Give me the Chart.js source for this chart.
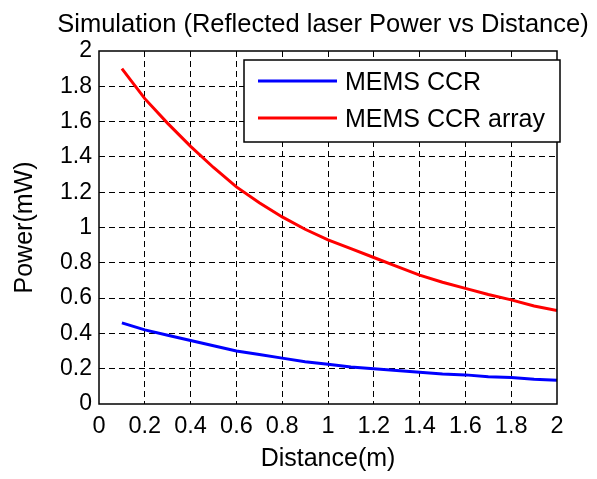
<!DOCTYPE html>
<html>
<head>
<meta charset="utf-8">
<script src="https://cdn.jsdelivr.net/npm/chart.js@4/dist/chart.umd.min.js"></script>
<style>
  body { margin: 0; background: #fff; }
  #wrap { width: 597px; height: 479px; }
</style>
</head>
<body>
<div id="wrap"><canvas id="chart"></canvas></div>
<script>
var distance = [0.1, 0.2, 0.3, 0.4, 0.5, 0.6, 0.7, 0.8, 0.9, 1.0,
                1.1, 1.2, 1.3, 1.4, 1.5, 1.6, 1.7, 1.8, 1.9, 2.0];
var ccrPower = [0.46, 0.42, 0.39, 0.36, 0.33, 0.30, 0.28, 0.26, 0.24, 0.225,
                0.21, 0.20, 0.19, 0.18, 0.17, 0.165, 0.155, 0.15, 0.14, 0.135];
var arrayPower = [1.90, 1.73, 1.59, 1.46, 1.34, 1.23, 1.14, 1.06, 0.99, 0.93,
                  0.88, 0.83, 0.78, 0.73, 0.69, 0.655, 0.62, 0.59, 0.555, 0.53];
var seriesNames = ['MEMS CCR', 'MEMS CCR array'];
var tickLabels = ['0', '0.2', '0.4', '0.6', '0.8', '1', '1.2', '1.4', '1.6', '1.8', '2'];
var chartTitle = 'Simulation (Reflected laser Power vs Distance)';

function pts(xs, ys) {
  return xs.map(function (x, i) { return { x: x, y: ys[i] }; });
}

var FONT = "'Liberation Sans', Arial, sans-serif";

var c = document.getElementById("chart");

var gridColor = function (ctx) {
  var v = ctx.tick ? ctx.tick.value : null;
  return (v === 0 || v === 2) ? 'rgba(0,0,0,0)' : '#000';
};

// black box round the plot area
var framePlugin = {
  id: 'frame',
  afterDatasetsDraw: function (chart) {
    var a = chart.chartArea, g = chart.ctx;
    g.save();
    g.strokeStyle = '#000';
    g.lineWidth = 1.5;
    g.strokeRect(a.left, a.top, a.right - a.left, a.bottom - a.top);
    g.restore();
  }
};

// title centred over the plot area, like matlab does it
var plotTitle = {
  id: 'plotTitle',
  afterDraw: function (chart) {
    var a = chart.chartArea, g = chart.ctx;
    g.save();
    g.fillStyle = '#000';
    g.font = '25.5px ' + FONT;
    g.textAlign = 'center';
    g.textBaseline = 'alphabetic';
    g.fillText(chartTitle, (a.left + a.right) / 2 - 5, 31.5);
    g.restore();
  }
};

// matlab style legend inside the plot
var boxLegend = {
  id: 'boxLegend',
  afterDraw: function (chart) {
    var a = chart.chartArea, g = chart.ctx;
    var x0 = a.left + 145, y0 = a.top + 9, w = 316, h = 82;
    g.save();
    g.fillStyle = '#fff';
    g.fillRect(x0, y0, w, h);
    g.strokeStyle = '#000';
    g.lineWidth = 1.5;
    g.strokeRect(x0, y0, w, h);
    chart.data.datasets.forEach(function (ds, i) {
      var y = y0 + 21 + i * 37;
      g.strokeStyle = ds.borderColor;
      g.lineWidth = 3;
      g.beginPath();
      g.moveTo(x0 + 14, y);
      g.lineTo(x0 + 93, y);
      g.stroke();
      g.fillStyle = '#000';
      g.font = '25px ' + FONT;
      g.textBaseline = 'middle';
      g.textAlign = 'left';
      g.fillText(ds.label, x0 + 101, y + 2);
    });
    g.restore();
  }
};

var data = {
  datasets: [{
    label: seriesNames[0],
    data: pts(distance, ccrPower),
    borderColor: '#0000ff',
    borderWidth: 3,
    pointRadius: 0,
    tension: 0
  }, {
    label: seriesNames[1],
    data: pts(distance, arrayPower),
    borderColor: '#ff0000',
    borderWidth: 3,
    pointRadius: 0,
    tension: 0
  }]
};

var options = {
  responsive: true,
  maintainAspectRatio: false,
  animation: false,
  layout: { padding: { left: 0, right: 40, top: 51, bottom: 0 } },
  plugins: {
    legend: { display: false },
    tooltip: { enabled: false },
    title: { display: false }
  },
  scales: {
    x: {
      type: 'linear',
      min: 0,
      max: 2,
      afterFit: function (s) { s.height = 75; },
      grid: { color: gridColor, drawTicks: false, lineWidth: 1 },
      border: { display: false, dash: [6, 4] },
      ticks: {
        stepSize: 0.2,
        padding: 8,
        color: '#000',
        maxRotation: 0,
        font: { family: FONT, size: 23.5 },
        callback: function (v, i) { return tickLabels[i]; }
      },
      title: {
        display: true,
        text: 'Distance(m)',
        color: '#000',
        font: { family: FONT, size: 25 },
        padding: 5
      }
    },
    y: {
      min: 0,
      max: 2,
      afterFit: function (s) { s.width = 99; },
      grid: { color: gridColor, drawTicks: false, lineWidth: 1 },
      border: { display: false, dash: [6, 4] },
      ticks: {
        stepSize: 0.2,
        padding: 7,
        color: '#000',
        font: { family: FONT, size: 23 },
        callback: function (v, i) { return tickLabels[i]; }
      },
      title: {
        display: true,
        text: 'Power(mW)',
        color: '#000',
        font: { family: FONT, size: 25 },
        padding: 10
      }
    }
  }
};

var chart = new Chart(c, {
  type: 'line',
  data: data,
  options: options,
  plugins: [framePlugin, boxLegend, plotTitle]
});
</script>
</body>
</html>
